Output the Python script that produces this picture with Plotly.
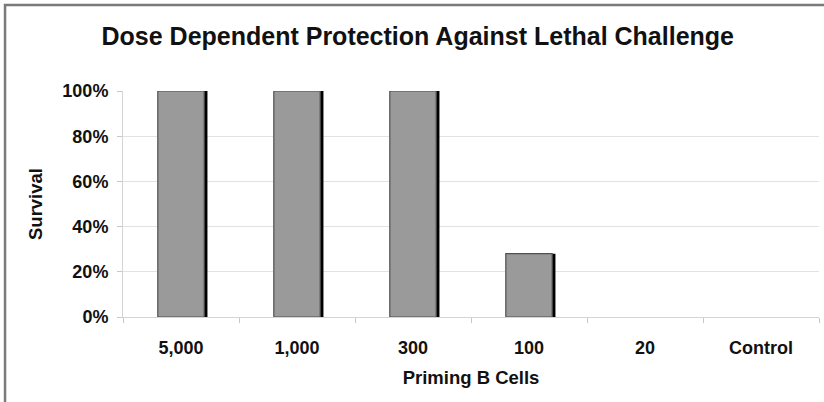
import plotly.graph_objects as go

# Survival after lethal challenge by number of priming B cells
categories = ["5,000", "1,000", "300", "100", "20", "Control"]
survival = [100, 100, 100, 28, 0, 0]
y_ticks = [0, 20, 40, 60, 80, 100]
y_tick_labels = ["0%", "20%", "40%", "60%", "80%", "100%"]

FONT = "Liberation Sans, Arial, sans-serif"
BAR_W = 0.40

# no outline on empty (zero-height) bars
outline = [1.2 if v > 0 else 0 for v in survival]

fig = go.Figure()

# dark drop shadow on the right edge of each bar
fig.add_trace(go.Bar(
    x=categories, y=survival,
    width=BAR_W, offset=-BAR_W / 2 + 0.028,
    marker=dict(color="#000000", line=dict(width=0)),
    hoverinfo="skip", showlegend=False,
))
# the bars themselves
fig.add_trace(go.Bar(
    x=categories, y=survival,
    width=BAR_W, offset=-BAR_W / 2,
    marker=dict(color="#9a9a9a", line=dict(color="#505050", width=outline)),
    showlegend=False,
))

# outer frame (top and left edges)
fig.add_shape(type="path", xref="paper", yref="paper",
              path="M -0.1695,-0.5 L -0.1695,1.381 L 1.2,1.381",
              line=dict(color="#7a7a7a", width=2.5))

fig.update_layout(
    width=824, height=402,
    margin=dict(l=123, r=5, t=91, b=85),
    paper_bgcolor="white", plot_bgcolor="white",
    barmode="overlay",
    title=dict(text="<b>Dose Dependent Protection Against Lethal Challenge</b>",
               x=0.507, xanchor="center", y=0.91, yanchor="middle",
               font=dict(family=FONT, size=25, color="#111111")),
    xaxis=dict(
        type="category", tickson="boundaries",
        tickvals=categories, ticktext=[f"<b>{c}</b>" for c in categories],
        showgrid=False, showline=True, linecolor="#d4d4d4", linewidth=1,
        ticks="outside", ticklen=5, tickcolor="#c8c8c8",
        ticklabelstandoff=14,
        tickfont=dict(family=FONT, size=18, color="#111111"),
        title=dict(text="<b>Priming B Cells</b>", standoff=14,
                   font=dict(family=FONT, size=18.5, color="#111111")),
        range=[-0.5, 5.5],
    ),
    yaxis=dict(
        range=[0, 100], tickvals=y_ticks, ticktext=[f"<b>{t}</b>" for t in y_tick_labels],
        showgrid=True, gridcolor="#e2e2e2", gridwidth=1,
        showline=True, linecolor="#d4d4d4", linewidth=1,
        ticks="outside", ticklen=5, tickcolor="#c8c8c8",
        ticklabelstandoff=5,
        tickfont=dict(family=FONT, size=18, color="#111111"),
        zeroline=False,
        title=dict(text="<b>Survival</b>", standoff=14,
                   font=dict(family=FONT, size=18.5, color="#111111")),
    ),
)

fig.write_html("out.html")
